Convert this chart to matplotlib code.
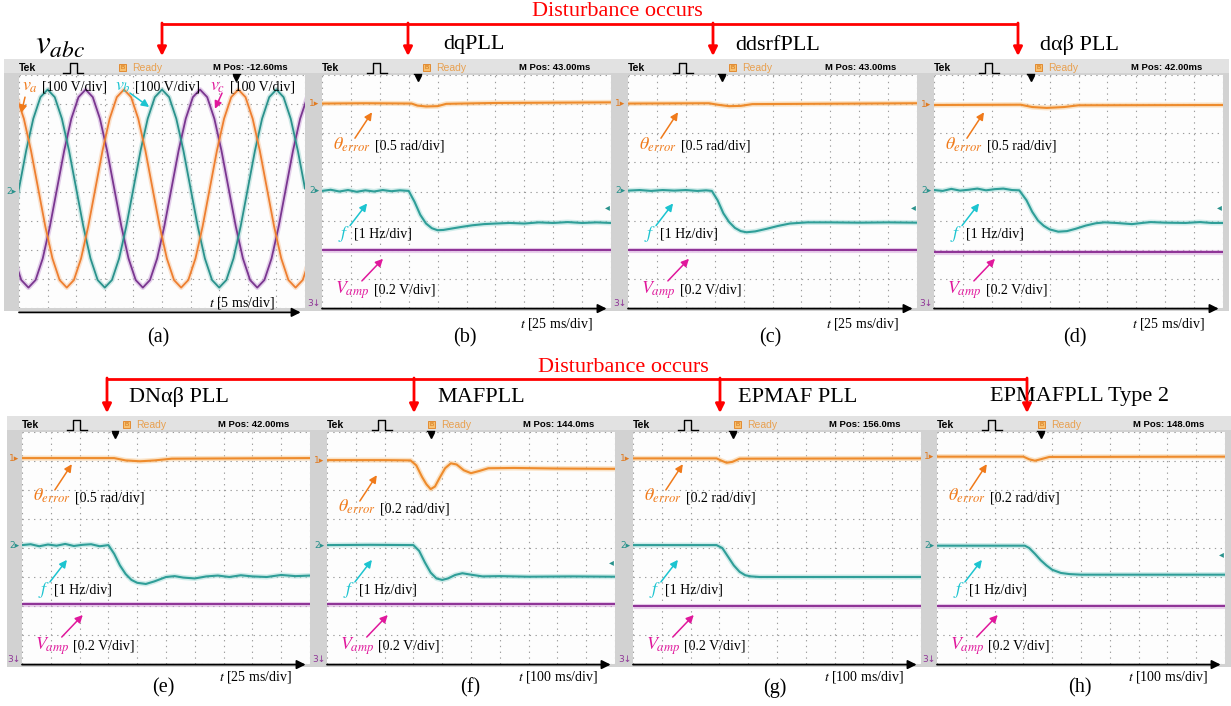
import matplotlib
matplotlib.use("Agg")
import matplotlib.pyplot as plt
import numpy as np
from matplotlib.patches import Rectangle

plt.rcParams["font.family"] = ["Liberation Serif", "DejaVu Serif"]
plt.rcParams["mathtext.fontset"] = "stix"

# ------------------------------------------------------------------ data
panel_tags = ["(a)", "(b)", "(c)", "(d)", "(e)", "(f)", "(g)", "(h)"]
pll_names = ["dqPLL", "ddsrfPLL", "dαβ PLL", "DNαβ PLL",
             "MAFPLL", "EPMAF PLL", "EPMAFPLL Type 2"]
m_pos = ["M Pos: -12.60ms", "M Pos: 43.00ms", "M Pos: 43.00ms", "M Pos: 42.00ms",
         "M Pos: 42.00ms", "M Pos: 144.0ms", "M Pos: 156.0ms", "M Pos: 148.0ms"]
time_div = ["5 ms/div", "25 ms/div", "25 ms/div", "25 ms/div",
            "25 ms/div", "100 ms/div", "100 ms/div", "100 ms/div"]
theta_div = ["0.5 rad/div", "0.5 rad/div", "0.5 rad/div", "0.5 rad/div",
             "0.2 rad/div", "0.2 rad/div", "0.2 rad/div"]
freq_div = "1 Hz/div"
vamp_div = "0.2 V/div"
phase_div = "100 V/div"

# panel (a): phase voltages in divisions, read every quarter division
phase_step = 0.25
va_start, vb_start, vc_start = -0.08, -0.25, -0.17
va = [3.24, 2.5, 1.4, 0.1, -1.2, -2.3, -3.04, -3.3, -3.04, -2.3, -1.2, 0.1, 1.4, 2.5, 3.24,
      3.5, 3.24, 2.5, 1.4, 0.1, -1.2, -2.3, -3.04, -3.3, -3.04, -2.3, -1.2, 0.1, 1.4, 2.5, 3.24,
      3.5, 3.24, 2.5, 1.4, 0.1, -1.2, -2.3, -3.04, -3.3, -3.04, -2.3]
vb = [-1.2, 0.1, 1.4, 2.5, 3.24,
      3.5, 3.24, 2.5, 1.4, 0.1, -1.2, -2.3, -3.04, -3.3, -3.04, -2.3, -1.2, 0.1, 1.4, 2.5, 3.24,
      3.5, 3.24, 2.5, 1.4, 0.1, -1.2, -2.3, -3.04, -3.3, -3.04, -2.3, -1.2, 0.1, 1.4, 2.5, 3.24,
      3.5, 3.24, 2.5, 1.4, 0.1]
vc = [-2.3, -3.04, -3.3, -3.04, -2.3, -1.2, 0.1, 1.4, 2.5, 3.24,
      3.5, 3.24, 2.5, 1.4, 0.1, -1.2, -2.3, -3.04, -3.3, -3.04, -2.3, -1.2, 0.1, 1.4, 2.5, 3.24,
      3.5, 3.24, 2.5, 1.4, 0.1, -1.2, -2.3, -3.04, -3.3, -3.04, -2.3, -1.2, 0.1, 1.4, 2.5, 3.24]

# panels (b)-(h): traces in divisions (time in div, level in div)
dq_theta_t = [0, 1.5, 3.1, 3.3, 3.6, 4.0, 4.3, 6.0, 10]
dq_theta = [3.02, 3.03, 3.02, 2.95, 2.92, 2.93, 3.01, 3.04, 3.06]
dq_freq_t = [0, 0.3, 0.6, 0.9, 1.2, 1.5, 1.8, 2.1, 2.4, 2.7, 3.0, 3.2, 3.4, 3.6, 3.8,
             4.0, 4.2, 4.5, 4.8, 5.2, 5.6, 6.0, 6.5, 7.0, 7.5, 8.0, 8.5, 9.0, 9.5, 10]
dq_freq = [0.02, 0.06, 0.0, 0.05, -0.01, 0.04, 0.0, 0.05, 0.01, 0.04, 0.02, -0.35, -0.8, -1.1, -1.26,
           -1.33, -1.32, -1.27, -1.22, -1.16, -1.12, -1.1, -1.08, -1.1, -1.06, -1.08, -1.05, -1.08, -1.06, -1.08]

ddsrf_theta_t = [0, 2.8, 3.1, 3.5, 3.9, 4.3, 10]
ddsrf_theta = [3.02, 3.03, 2.98, 2.93, 2.94, 3.0, 3.03]
ddsrf_freq_t = [0, 0.4, 0.8, 1.2, 1.6, 2.0, 2.4, 2.7, 2.9, 3.1, 3.3, 3.5, 3.7, 3.9, 4.1,
                4.4, 4.8, 5.2, 5.6, 6.2, 7.0, 8.0, 9.0, 10]
ddsrf_freq = [0.03, 0.05, 0.02, 0.05, 0.03, 0.05, 0.02, 0.04, 0.02, -0.3, -0.75, -1.05, -1.25, -1.36, -1.4,
              -1.37, -1.28, -1.18, -1.1, -1.06, -1.06, -1.07, -1.06, -1.07]

dab_theta_t = [0, 3.0, 3.4, 3.9, 4.5, 5.0, 10]
dab_theta = [2.97, 2.98, 2.9, 2.87, 2.9, 2.96, 2.97]
dab_freq_t = [0, 0.3, 0.6, 0.9, 1.2, 1.5, 1.8, 2.1, 2.4, 2.7, 2.95, 3.2, 3.4, 3.6, 3.8, 4.0,
              4.3, 4.6, 4.9, 5.25, 5.6, 5.9, 6.3, 6.85, 7.2, 7.5, 8.0, 8.7, 9.2, 9.6, 10]
dab_freq = [0.05, 0.02, 0.09, 0.03, 0.06, 0.1, 0.04, 0.08, 0.1, 0.05, 0.04, -0.3, -0.7, -1.0, -1.18, -1.3,
            -1.38, -1.36, -1.28, -1.17, -1.09, -1.06, -1.08, -1.12, -1.08, -1.05, -1.07, -1.08, -1.05, -1.08, -1.08]

dn_theta_t = [0, 3.2, 3.6, 4.1, 4.6, 5.2, 10]
dn_theta = [3.1, 3.1, 3.02, 2.99, 3.02, 3.08, 3.1]
dn_freq_t = [0, 0.3, 0.6, 0.9, 1.2, 1.5, 1.8, 2.1, 2.4, 2.7, 3.0, 3.2, 3.4, 3.6, 3.8, 4.0,
             4.3, 4.6, 5.0, 5.3, 5.6, 6.0, 6.4, 6.8, 7.2, 7.6, 8.0, 8.5, 9.0, 9.5, 10]
dn_freq = [0.1, 0.13, 0.06, 0.12, 0.08, 0.14, 0.07, 0.11, 0.13, 0.06, 0.1, -0.2, -0.6, -0.9, -1.1, -1.2,
           -1.24, -1.15, -1.0, -0.97, -1.02, -1.05, -0.98, -0.95, -1.0, -0.94, -0.98, -1.0, -0.93, -0.97, -0.95]

maf_theta_t = [0, 2.0, 2.9, 3.1, 3.3, 3.45, 3.6, 3.75, 3.9, 4.1,
               4.3, 4.5, 4.75, 5.0, 5.3, 5.6, 6.5, 8.0, 10]
maf_theta = [3.03, 3.03, 3.02, 2.85, 2.45, 2.2, 2.03, 2.12, 2.4, 2.75,
             2.92, 2.88, 2.68, 2.58, 2.66, 2.75, 2.76, 2.74, 2.73]
maf_freq_t = [0, 1.5, 3.0, 3.2, 3.4, 3.6, 3.8, 4.0, 4.2, 4.45, 4.7, 5.0, 5.4, 6.0, 7.0, 8.5, 10]
maf_freq = [0.1, 0.11, 0.1, -0.1, -0.5, -0.85, -1.05, -1.1, -1.05, -0.93, -0.87, -0.92, -0.98, -0.97, -0.99, -0.98, -0.99]

epmaf_theta_t = [0, 2.9, 3.1, 3.25, 3.45, 3.7, 10]
epmaf_theta = [3.09, 3.09, 3.0, 2.94, 2.97, 3.08, 3.09]
epmaf_freq_t = [0, 2.9, 3.1, 3.3, 3.5, 3.7, 3.9, 4.1, 4.4, 10]
epmaf_freq = [0.1, 0.1, 0.0, -0.3, -0.6, -0.82, -0.94, -0.98, -1.0, -1.0]

type2_theta_t = [0, 3.0, 3.2, 3.4, 3.6, 3.9, 10]
type2_theta = [3.15, 3.15, 3.06, 3.01, 3.06, 3.14, 3.15]
type2_freq_t = [0, 3.05, 3.2, 3.4, 3.6, 3.8, 4.0, 4.3, 4.6, 5.0, 10]
type2_freq = [0.08, 0.08, 0.0, -0.2, -0.42, -0.6, -0.75, -0.86, -0.9, -0.92, -0.92]

vamp_level = [-2.02, -2.02, -2.09, -1.93, -1.94, -2.0, -2.0]
trigger_level = [-0.55, -0.55, -0.55, None, -0.5, None, -0.2]
trigger_pos = [7.6, 3.32, 3.25, 3.35, 3.23, 3.6, 3.46, 3.6]

theta_traces = [(dq_theta_t, dq_theta), (ddsrf_theta_t, ddsrf_theta), (dab_theta_t, dab_theta),
                (dn_theta_t, dn_theta), (maf_theta_t, maf_theta), (epmaf_theta_t, epmaf_theta),
                (type2_theta_t, type2_theta)]
freq_traces = [(dq_freq_t, dq_freq), (ddsrf_freq_t, ddsrf_freq), (dab_freq_t, dab_freq),
               (dn_freq_t, dn_freq), (maf_freq_t, maf_freq), (epmaf_freq_t, epmaf_freq),
               (type2_freq_t, type2_freq)]

# ---------------------------------------------------------------- layout
W, H = 1231, 706
grid_x = [(19, 305), (322, 611), (628, 917), (934, 1223),
          (22, 310), (327, 615), (633, 921), (937, 1225)]
grid_y = [(75, 308)] * 4 + [(432, 664)] * 4
tag_pos = [(158, 338), (465, 338), (770, 338), (1075, 338),
           (163, 688), (470, 688), (775, 688), (1080, 688)]
title_pos = [(474, 45), (778, 45), (1079, 45), (179, 397), (481, 397), (798, 397), (1080, 397)]
theta_base = [1.45, 1.45, 1.45, 1.62, 1.24, 1.62, 1.62]

THETA_C, FREQ_C, VAMP_C = "#f07a1a", "#1cc4d0", "#e0189c"
SANS = "Liberation Sans"

fig = plt.figure(figsize=(W / 100, H / 100), dpi=100)
ov = fig.add_axes([0, 0, 1, 1])
ov.set_xlim(0, W)
ov.set_ylim(H, 0)
ov.axis("off")


def make_panel(k):
    x0, x1 = grid_x[k]
    y0, y1 = grid_y[k]
    ov.add_patch(Rectangle((x0 - 15, y0 - 16), x1 - x0 + 21, y1 - y0 + 19,
                           facecolor="#d2d2d2", edgecolor="none"))
    ov.add_patch(Rectangle((x0 - 15, y0 - 16), x1 - x0 + 21, 14,
                           facecolor="#e2e2e2", edgecolor="none"))
    ax = fig.add_axes([x0 / W, 1 - y1 / H, (x1 - x0) / W, (y1 - y0) / H])
    ax.set_xlim(0, 10)
    ax.set_ylim(-4, 4)
    ax.set_facecolor("#fdfdfd")
    ax.set_xticks([])
    ax.set_yticks([])
    for s in ax.spines.values():
        s.set_visible(False)
    for x in range(11):
        ax.axvline(x, color="#9c9c9c", lw=0.8, ls=(0, (1.2, 4)), zorder=0)
    for y in range(-4, 5):
        ax.axhline(y, color="#9c9c9c", lw=0.8, ls=(0, (1.2, 4)), zorder=0)

    # scope header
    hy = 4.25
    ax.text(0.0, hy, "Tek", fontsize=7.5, weight="bold", family=SANS,
            ha="left", va="center", clip_on=False)
    ax.plot([1.55, 1.78, 1.78, 2.02, 2.02, 2.25], [4.08, 4.08, 4.42, 4.42, 4.08, 4.08],
            color="black", lw=1.0, clip_on=False)
    ax.text(3.62, hy, "B", fontsize=4.5, color="#d07010", family=SANS, ha="center", va="center",
            bbox=dict(boxstyle="square,pad=0.2", fc="#f8c070", ec="#e08020", lw=0.6), clip_on=False)
    ax.text(3.95, hy, "Ready", fontsize=7.5, color="#e8a050", family=SANS,
            ha="left", va="center", clip_on=False)
    ax.text(6.8, hy, m_pos[k], fontsize=6.8, weight="bold", family=SANS,
            ha="left", va="center", clip_on=False)
    ax.plot([trigger_pos[k]], [3.88], marker="v", ms=4, color="black", clip_on=False)
    ax.plot([trigger_pos[k] - 0.12, trigger_pos[k] + 0.12], [4.02, 4.02], color="black", lw=1, clip_on=False)

    # time axis arrow and time scale
    ay = -4.15 if k == 0 else -4.02
    ax.annotate("", xy=(9.85, ay), xytext=(0, ay),
                arrowprops=dict(arrowstyle="-|>", color="black", lw=1.3,
                                mutation_scale=13, shrinkA=0, shrinkB=0), annotation_clip=False)
    if k == 0:
        ax.text(8.95, -3.83, f"$t$ [{time_div[k]}]", fontsize=10, ha="right", va="center")
    else:
        ty = -4.55 if k < 4 else -4.45
        ax.text(9.38, ty, f"$t$ [{time_div[k]}]", fontsize=10, ha="right", va="center", clip_on=False)
    return ax


def trace(ax, t, v, core, glow, lw=1.5):
    ax.plot(t, v, color=glow, lw=lw + 2.2, alpha=0.5, solid_capstyle="butt", zorder=2)
    ax.plot(t, v, color=core, lw=lw, zorder=3)


def label(ax, x, y, math, color, unit):
    t = ax.text(x, y, math, color=color, fontsize=13, ha="left", va="baseline", zorder=5)
    ax.annotate(f"[{unit}]", xy=(1, y), xycoords=(t, "data"), xytext=(3, 0),
                textcoords="offset points", fontsize=10, ha="left", va="baseline", zorder=5)


def pointer(ax, tail, head, color):
    ax.annotate("", xy=head, xytext=tail,
                arrowprops=dict(arrowstyle="-|>", color=color, lw=1.1,
                                mutation_scale=11, shrinkA=0, shrinkB=0), zorder=5)


def channel_mark(ax, text, y, color):
    ax.text(-0.27, y, text, fontsize=6.5, color=color, family="DejaVu Sans",
            ha="center", va="center", clip_on=False)


# ------------------------------------------------------------ panel (a)
ax = make_panel(0)
for vals, start, core, glow in [(vc, vc_start, "#7a3690", "#c9a0d6"),
                                (vb, vb_start, "#2a928c", "#9fd3cf"),
                                (va, va_start, "#ee7f30", "#f7c6a0")]:
    t = start + phase_step * np.arange(len(vals))
    trace(ax, t, vals, core, glow, lw=1.3)
channel_mark(ax, "2▸", 0.0, "#2a928c")
label(ax, 0.1, 3.48, r"$v_a$", THETA_C, phase_div)
label(ax, 3.36, 3.48, r"$v_b$", FREQ_C, phase_div)
label(ax, 6.68, 3.48, r"$v_c$", VAMP_C, phase_div)
pointer(ax, (0.21, 3.24), (0.08, 2.7), THETA_C)
pointer(ax, (3.88, 3.38), (4.55, 2.9), FREQ_C)
pointer(ax, (7.1, 3.38), (6.85, 2.84), VAMP_C)

# --------------------------------------------------------- panels (b)-(h)
for i in range(7):
    k = i + 1
    ax = make_panel(k)
    th_t, th_v = theta_traces[i]
    fr_t, fr_v = freq_traces[i]
    trace(ax, th_t, th_v, "#ee8b2c", "#f9c98f")
    trace(ax, fr_t, fr_v, "#2f9e98", "#a5dcd8")
    trace(ax, [0, 10], [vamp_level[i], vamp_level[i]], "#8f3597", "#d7a3dc")
    channel_mark(ax, "1▸", th_v[0], "#e07a20")
    channel_mark(ax, "2▸", fr_v[0], "#2a928c")
    channel_mark(ax, "3↓", -3.85, "#8f3597")
    if trigger_level[i] is not None:
        ax.text(9.86, trigger_level[i], "◂", fontsize=7, color="#2a928c",
                family="DejaVu Sans", ha="center", va="center")

    b = theta_base[i]
    label(ax, 0.38, b, r"$\theta_{error}$", THETA_C, theta_div[i])
    pointer(ax, (1.14, b + 0.38), (1.73, b + 1.27), THETA_C)
    label(ax, 0.55, -1.58, r"$f$", FREQ_C, freq_div)
    pointer(ax, (0.97, -1.17), (1.56, -0.41), FREQ_C)
    label(ax, 0.45, -3.5, r"$V_{amp}$", VAMP_C, vamp_div)
    pointer(ax, (1.38, -3.07), (2.11, -2.31), VAMP_C)

# -------------------------------------------------- titles and annotations
for name, (x, y) in zip(pll_names, title_pos):
    ov.text(x, y, name, fontsize=16, ha="center", va="center")
ov.text(35, 45, r"$v_{abc}$", fontsize=24, ha="left", va="center")
for tag, (x, y) in zip(panel_tags, tag_pos):
    ov.text(x, y, tag, fontsize=14.5, ha="center", va="center")

for line_y, tip_y, xs, text_x in [(24, 56, [162, 408, 713, 1018], 617),
                                   (379, 413, [107, 414, 720, 1027], 623)]:
    ov.plot([xs[0], xs[-1]], [line_y, line_y], color="red", lw=2, solid_capstyle="butt")
    for x in xs:
        ov.annotate("", xy=(x, tip_y), xytext=(x, line_y - 1),
                    arrowprops=dict(arrowstyle="-|>", color="red", lw=2,
                                    mutation_scale=13, shrinkA=0, shrinkB=0))
    ov.text(text_x, line_y - 12, "Disturbance occurs", fontsize=16, color="red",
            ha="center", va="center")

fig.savefig("out.png", dpi=100)
